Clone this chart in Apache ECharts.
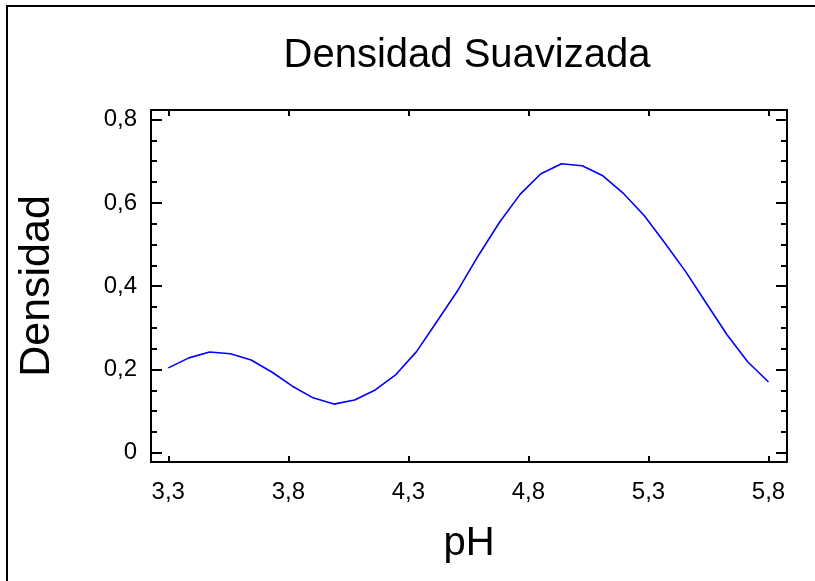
<!DOCTYPE html>
<html>
<head>
<meta charset="utf-8">
<script src="https://cdn.jsdelivr.net/npm/echarts@6/dist/echarts.min.js"></script>
<style>
html,body{margin:0;padding:0;background:#fff;}
#chart{width:815px;height:581px;}
</style>
</head>
<body>
<div id="chart"></div>
<script>
var titleText = 'Densidad Suavizada';
var xName = 'pH';
var yName = 'Densidad';
var phValues = [3.300, 3.386, 3.472, 3.559, 3.645, 3.731, 3.817, 3.903, 3.990, 4.076,
                4.162, 4.248, 4.334, 4.421, 4.507, 4.593, 4.679, 4.766, 4.852, 4.938,
                5.024, 5.110, 5.197, 5.283, 5.369, 5.455, 5.541, 5.628, 5.714, 5.800];
var densityValues = [0.204, 0.228, 0.242, 0.238, 0.223, 0.194, 0.160, 0.132, 0.117, 0.127,
                     0.151, 0.188, 0.243, 0.317, 0.391, 0.475, 0.553, 0.621, 0.670, 0.694,
                     0.689, 0.665, 0.622, 0.569, 0.503, 0.435, 0.359, 0.283, 0.218, 0.170];
var xTicks = [3.3, 3.8, 4.3, 4.8, 5.3, 5.8];
var yTicks = [0, 0.2, 0.4, 0.6, 0.8];
var yMinorTicks = [0.05, 0.1, 0.15, 0.25, 0.3, 0.35, 0.45, 0.5, 0.55, 0.65, 0.7, 0.75];

var xMin = 3.228, xMax = 5.877, yMin = -0.022, yMax = 0.823;
var font = '"Liberation Sans", Arial, sans-serif';
var fmt = function (v) { return String(+v.toFixed(1)).replace('.', ','); };

var chart = echarts.init(document.getElementById('chart'), null, {renderer: 'canvas'});

function yAxisDef(pos, ticks, len, showLabel, showName) {
  return {
    type: 'value', position: pos, min: yMin, max: yMax,
    splitLine: {show: false},
    axisLine: {show: true, onZero: false, lineStyle: {color: '#000', width: 2}},
    axisTick: {show: true, inside: true, length: len, customValues: ticks, lineStyle: {color: '#000', width: 2}},
    axisLabel: showLabel ? {show: true, customValues: ticks, formatter: fmt, color: '#000', fontSize: 24, fontFamily: font, margin: 14} : {show: false},
    name: showName ? yName : '',
    nameLocation: 'middle', nameGap: 92, nameRotate: 90,
    nameTextStyle: {color: '#000', fontSize: 43, fontFamily: font}
  };
}

chart.setOption({
  animation: false,
  backgroundColor: '#fff',
  title: {
    text: titleText, left: 462, top: 31, textAlign: 'center',
    textStyle: {color: '#000', fontSize: 40, fontWeight: 'normal', fontFamily: font}
  },
  grid: {left: 151, right: 28, top: 110, bottom: 119, containLabel: false},
  graphic: [{
    type: 'rect', shape: {x: 7, y: 6, width: 830, height: 600},
    style: {fill: 'none', stroke: '#000', lineWidth: 2}, silent: true, z: 100
  }],
  xAxis: [{
    type: 'value', position: 'bottom', min: xMin, max: xMax,
    splitLine: {show: false},
    axisLine: {show: true, onZero: false, lineStyle: {color: '#000', width: 2}},
    axisTick: {show: true, inside: true, length: 6, customValues: xTicks, lineStyle: {color: '#000', width: 2}},
    axisLabel: {show: true, customValues: xTicks, formatter: fmt, color: '#000', fontSize: 24, fontFamily: font, margin: 18},
    name: xName, nameLocation: 'middle', nameGap: 62,
    nameTextStyle: {color: '#000', fontSize: 40, fontFamily: font}
  }, {
    type: 'value', position: 'top', min: xMin, max: xMax,
    splitLine: {show: false},
    axisLine: {show: true, onZero: false, lineStyle: {color: '#000', width: 2}},
    axisTick: {show: true, inside: true, length: 6, customValues: xTicks, lineStyle: {color: '#000', width: 2}},
    axisLabel: {show: false}
  }],
  yAxis: [
    yAxisDef('left', yTicks, 11, true, true),
    yAxisDef('left', yMinorTicks, 6, false, false),
    yAxisDef('right', yTicks, 11, false, false),
    yAxisDef('right', yMinorTicks, 6, false, false)
  ],
  series: [{
    type: 'line',
    xAxisIndex: 0, yAxisIndex: 0,
    data: phValues.map(function (x, i) { return [x, densityValues[i]]; }),
    showSymbol: false, smooth: false,
    lineStyle: {color: '#0000ff', width: 1.6},
    itemStyle: {color: '#0000ff'}
  }]
});
</script>
</body>
</html>
